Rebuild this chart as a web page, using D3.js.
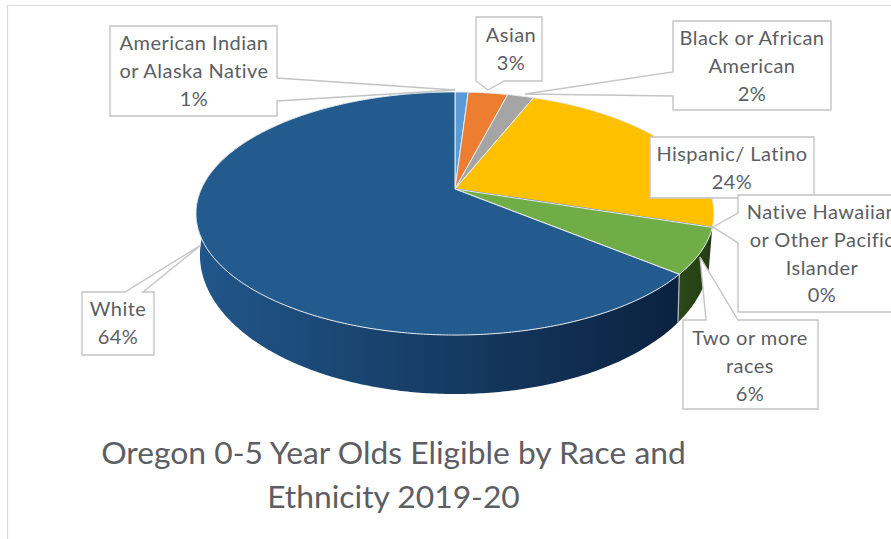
<!DOCTYPE html>
<html>
<head>
<meta charset="utf-8">
<script src="https://cdn.jsdelivr.net/npm/d3@7"></script>
<style>
  html, body { margin: 0; padding: 0; background: #fff; overflow: hidden; }
  svg { display: block; }
  text { font-family: Lato, "Open Sans", sans-serif; fill: #5c5e63; }
</style>
</head>
<body>
<svg id="chart" width="891" height="539"></svg>
<script>
// Eligibility shares by race and ethnicity, in percent
const categories = [
  "American Indian or Alaska Native", "Asian", "Black or African American",
  "Hispanic/ Latino", "Native Hawaiian or Other Pacific Islander",
  "Two or more races", "White"
];
const shares = [1, 3, 2, 24, 0, 6, 64];
const sliceColors = ["#5b9bd5", "#ed7d31", "#a5a5a5", "#ffc000", "#4472c4", "#70ad47", "#245b8e"];
const labelLines = [
  ["American Indian", "or Alaska Native"], ["Asian"], ["Black or African", "American"],
  ["Hispanic/ Latino"], ["Native Hawaiian", "or Other Pacific", "Islander"],
  ["Two or more", "races"], ["White"]
];
const titleLines = ["Oregon 0-5 Year Olds Eligible by Race and", "Ethnicity 2019-20"];

// Callout outlines, listed in paint order, and the y of each first text line
const callouts = [
  { i: 0, cx: 194, y: 43, outline: [[110,26],[277,26],[277,78],[455,90],[277,101],[277,116],[110,116]] },
  { i: 1, cx: 511, y: 35, outline: [[476,17],[542,17],[542,81],[504,81],[488,90],[476,81]] },
  { i: 2, cx: 752, y: 38, outline: [[673,21],[831,21],[831,110],[673,110],[673,96],[525,94],[673,72]] },
  { i: 6, cx: 118, y: 309, outline: [[82,292],[125,292],[201,245],[143,292],[154,292],[154,355],[82,355]] },
  { i: 5, cx: 750, y: 338, outline: [[683,320],[706,320],[700,257],[738,320],[818,320],[818,409],[683,409]] },
  { i: 3, cx: 732, y: 154, outline: [[650,137],[814,137],[814,198],[650,198]] },
  { i: 4, cx: 822, y: 212, outline: [[738,195],[906,195],[906,312],[738,312],[738,243],[713,227],[738,213]] }
];

const svg = d3.select("#chart");

// Perspective projection of a unit circle lying flat, seen from the front
function projector(cx, cy, a, b, k) {
  return t => {
    const X = Math.sin(t), Y = -Math.cos(t), w = 1 - k * Y;
    return [cx + a * X / w, cy + b * Y / w];
  };
}
const topRim = projector(455, 189, 253.7, 116.6, 0.2016);
const baseRim = projector(455, 224.4, 248.8, 132.3, 0.22);
const apex = [455, 189];

const arcs = d3.pie().sort(null).value(d => d)(shares);
const sweep = (a, b) => d3.range(a, b, 0.01).concat([b]);
const line = d3.line();

// Side wall shading runs left to right across the front of the pie
const defs = svg.append("defs");
function shade(id, x1, x2, from, to) {
  const g = defs.append("linearGradient").attr("id", id)
    .attr("gradientUnits", "userSpaceOnUse")
    .attr("x1", x1).attr("x2", x2).attr("y1", 0).attr("y2", 0);
  g.append("stop").attr("offset", 0).attr("stop-color", from);
  g.append("stop").attr("offset", 1).attr("stop-color", to);
}
shade("wall-white", 200, 676, "#215689", "#0b2240");
shade("wall-two", 676, 712, "#2d4a18", "#233d14");
const wallFill = { 5: "url(#wall-two)", 6: "url(#wall-white)" };

// Chart frame, open on the right and bottom
svg.append("path")
  .attr("d", line([[7.5, 539], [7.5, 5.5], [891, 5.5]]))
  .attr("fill", "none").attr("stroke", "#d9d9d9").attr("stroke-width", 1.2);

// Side walls of the slices that face the viewer
const walls = arcs.filter(d => d.index in wallFill);
svg.append("g").selectAll("path")
  .data(walls)
  .join("path")
  .attr("d", d => {
    const ts = sweep(d.startAngle, d.endAngle);
    return line(ts.map(topRim).concat(ts.slice().reverse().map(baseRim))) + "Z";
  })
  .attr("fill", d => wallFill[d.index]);

// Pale seam where the two front walls meet
svg.append("path")
  .datum(walls[0].endAngle)
  .attr("d", t => line([topRim(t), baseRim(t)]))
  .attr("stroke", "#b4bcc4").attr("stroke-width", 1.2);

// Top faces
svg.append("g").selectAll("path")
  .data(arcs)
  .join("path")
  .attr("d", d => line([apex].concat(sweep(d.startAngle, d.endAngle).map(topRim))) + "Z")
  .attr("fill", d => sliceColors[d.index])
  .attr("stroke", d => d.value === 0 ? sliceColors[d.index] : "#e8ecf0")
  .attr("stroke-width", d => d.value === 0 ? 1.6 : 1)
  .attr("stroke-linejoin", "round");

// Data callouts with their pointers
const label = svg.append("g").selectAll("g")
  .data(callouts)
  .join("g");
label.append("path")
  .attr("d", d => line(d.outline) + "Z")
  .attr("fill", "#fff").attr("stroke", "#c4c4c4").attr("stroke-width", 1.4);
label.each(function (d) {
  const lines = labelLines[d.i].concat([shares[d.i] + "%"]);
  d3.select(this).selectAll("text")
    .data(lines)
    .join("text")
    .attr("x", d.cx)
    .attr("y", (_, j) => d.y + j * 27.8)
    .attr("dy", "0.35em")
    .attr("text-anchor", "middle")
    .attr("font-size", 20)
    .attr("letter-spacing", 0.45)
    .text(t => t);
});

// Chart title
svg.append("g").selectAll("text")
  .data(titleLines)
  .join("text")
  .attr("x", 393.5)
  .attr("y", (_, j) => 453 + j * 44)
  .attr("dy", "0.35em")
  .attr("text-anchor", "middle")
  .attr("font-size", 31.8)
  .text(t => t);
</script>
</body>
</html>
